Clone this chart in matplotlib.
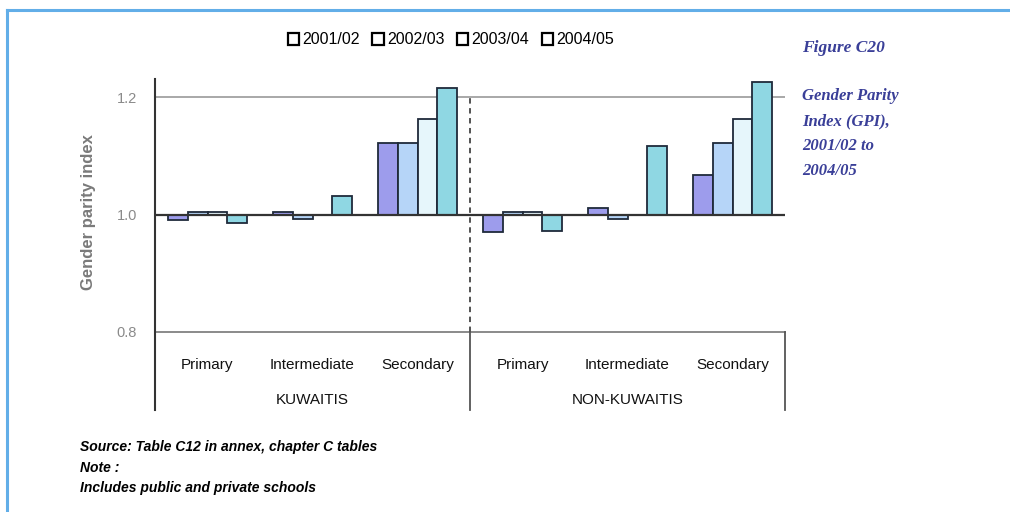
import matplotlib
matplotlib.use("Agg")
import matplotlib.pyplot as plt
from matplotlib.patches import Patch
from matplotlib.lines import Line2D
import numpy as np

# Data: gender parity index by school level and nationality
levels = ["Primary", "Intermediate", "Secondary", "Primary", "Intermediate", "Secondary"]
groups = ["KUWAITIS", "NON-KUWAITIS"]
years = ["2001/02", "2002/03", "2003/04", "2004/05"]

gpi_2001_02 = [0.990, 1.004, 1.121, 0.970, 1.011, 1.067]
gpi_2002_03 = [1.005, 0.993, 1.121, 1.005, 0.992, 1.121]
gpi_2003_04 = [1.005, 1.000, 1.163, 1.005, 1.000, 1.163]
gpi_2004_05 = [0.986, 1.031, 1.215, 0.972, 1.117, 1.226]

y_ticks = [0.8, 1.0, 1.2]
y_tick_labels = ["0.8", "1.0", "1.2"]

series = [gpi_2001_02, gpi_2002_03, gpi_2003_04, gpi_2004_05]
colors = ["#9d9cec", "#b6d5f8", "#e6f6fb", "#8fd7e3"]
edge = "#1f2a3a"

plt.rcParams["font.family"] = ["Liberation Sans", "DejaVu Sans"]

fig = plt.figure(figsize=(10.1, 5.12), dpi=100)
fig.patch.set_facecolor("white")

# page frame (top and left rule)
fig.add_artist(Line2D([7 / 1010, 7 / 1010], [0, 1 - 10 / 512], color="#62aee8", lw=2.2,
                      transform=fig.transFigure))
fig.add_artist(Line2D([7 / 1010, 1], [1 - 10 / 512, 1 - 10 / 512], color="#62aee8", lw=2.2,
                      transform=fig.transFigure))

ax_left, ax_right = 155 / 1010, 785 / 1010
ax_bottom_px, ax_top_px = 332, 79.4
ax = fig.add_axes([ax_left, 1 - ax_bottom_px / 512, ax_right - ax_left,
                   (ax_bottom_px - ax_top_px) / 512])
ax.set_xlim(-0.5, 5.5)
ax.set_ylim(0.8, 1.23)

x = np.arange(len(levels))
w = 0.186
for i, (vals, c) in enumerate(zip(series, colors)):
    offs = (i - 1.5) * w
    heights = [v - 1.0 for v in vals]
    ax.bar(x + offs, heights, width=w, bottom=1.0, color=c, edgecolor=edge,
           linewidth=1.3, zorder=3, label=years[i])

# gridlines and baseline
ax.axhline(1.2, color="#9a9a9a", lw=1.2, zorder=1)
ax.axhline(0.8, color="#8a8a8a", lw=1.4, zorder=1, clip_on=False)
ax.axhline(1.0, color="#333333", lw=1.6, zorder=4)

# dashed divider between nationality groups
ax.plot([2.5, 2.5], [0.8, 1.2], color="#444444", lw=1.3, ls=(0, (3, 2.5)), zorder=2)

for s in ax.spines.values():
    s.set_visible(False)

xt = ax.get_xaxis_transform()
# left axis line running into the category table
ax.add_line(Line2D([-0.5, -0.5], [-0.309, 1.0], color="#333333", lw=1.5,
                   transform=xt, clip_on=False))
for xv in (2.5, 5.5):
    ax.add_line(Line2D([xv, xv], [-0.309, 0.0], color="#555555", lw=1.3,
                       transform=xt, clip_on=False))

ax.set_xticks([])
ax.set_yticks(y_ticks)
ax.set_yticklabels(y_tick_labels)
ax.tick_params(axis="y", length=0, pad=13, labelsize=10.5, labelcolor="#8a8a8a")

for xi, lab in zip(x, levels):
    ax.text(xi, -0.131, lab, transform=xt, ha="center", va="center", fontsize=11,
            color="#111111")
for gi, g in enumerate(groups):
    ax.text(1 + 3 * gi, -0.269, g, transform=xt, ha="center", va="center", fontsize=11,
            color="#111111")

fig.text(88 / 1010, 1 - 212 / 512, "Gender parity index", rotation=90, ha="center",
         va="center", fontsize=12, color="#7a7a7a", fontweight="bold")

# legend with hollow square markers
handles = [Patch(facecolor="white", edgecolor="black", linewidth=1.6) for _ in years]
fig.legend(handles, years, loc="center", bbox_to_anchor=(451 / 1010, 1 - 40 / 512),
           ncol=4, frameon=False, fontsize=11.5, handlelength=0.7, handleheight=0.7,
           handletextpad=0.2, columnspacing=0.8)

# side caption
cap_color = "#3a3f98"
fig.text(802 / 1010, 1 - 48 / 512, "Figure C20", ha="left", va="center", fontsize=12.5,
         color=cap_color, style="italic", fontweight="bold", family="Liberation Serif")
fig.text(802 / 1010, 1 - 88 / 512, "Gender Parity\nIndex (GPI),\n2001/02 to\n2004/05",
         ha="left", va="top", fontsize=12, color=cap_color, style="italic",
         fontweight="bold", family="Liberation Serif", linespacing=1.75)

# source notes
notes = "Source: Table C12 in annex, chapter C tables\nNote :\nIncludes public and private schools"
fig.text(80 / 1010, 1 - 440 / 512, notes, ha="left", va="top", fontsize=10,
         color="black", style="italic", fontweight="bold", linespacing=1.6)

fig.savefig("out.png", dpi=100, facecolor="white")
